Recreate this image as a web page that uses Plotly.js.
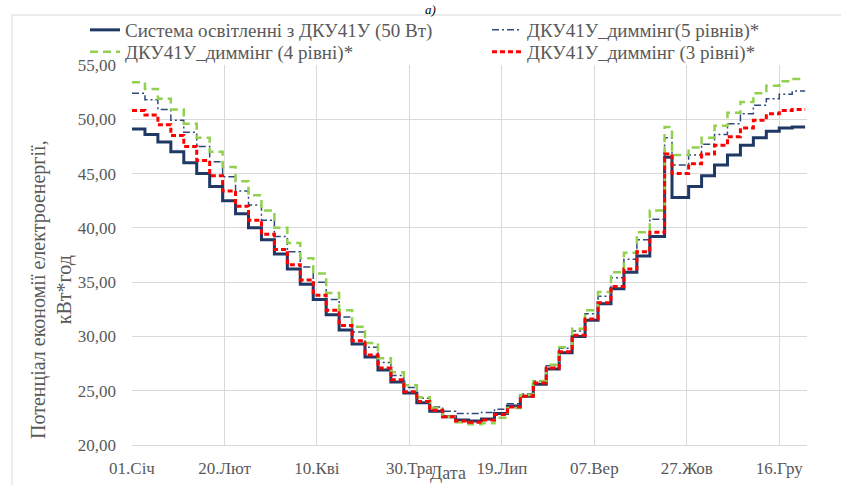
<!DOCTYPE html>
<html>
<head>
<meta charset="utf-8">
<script src="https://cdn.plot.ly/plotly-3.0.1.min.js"></script>
<style>html,body{margin:0;padding:0;background:#fff;}#chart{width:841px;height:485px;}</style>
</head>
<body>
<div id="chart"></div>
<script>
const dates = ['2024-01-01','2024-01-08','2024-01-15','2024-01-22','2024-01-29','2024-02-05','2024-02-12','2024-02-19','2024-02-26','2024-03-04','2024-03-11','2024-03-18','2024-03-25','2024-04-01','2024-04-08','2024-04-15','2024-04-22','2024-04-29','2024-05-06','2024-05-13','2024-05-20','2024-05-27','2024-06-03','2024-06-10','2024-06-17','2024-06-24','2024-07-01','2024-07-08','2024-07-15','2024-07-22','2024-07-29','2024-08-05','2024-08-12','2024-08-19','2024-08-26','2024-09-02','2024-09-09','2024-09-16','2024-09-23','2024-09-30','2024-10-07','2024-10-15','2024-10-19','2024-10-28','2024-11-04','2024-11-11','2024-11-18','2024-11-25','2024-12-02','2024-12-09','2024-12-16','2024-12-23','2024-12-30'];

const baseSeries = [49.1,48.6,47.9,47.0,46.0,45.0,43.8,42.5,41.3,40.0,38.9,37.6,36.2,34.8,
 33.4,32.0,30.6,29.3,28.1,26.9,25.8,24.8,23.9,23.1,22.6,22.3,22.2,22.4,22.9,23.6,24.5,25.6,27.0,28.5,30.0,31.5,33.0,34.4,35.9,37.4,39.2,
 46.5,42.8,43.8,44.8,45.8,46.7,47.6,48.3,48.9,49.2,49.3,49.3];

const dim5Series = [52.4,51.8,50.9,49.9,48.8,47.5,46.1,44.7,43.4,42.1,40.7,39.2,37.8,36.4,
 35.0,33.4,31.8,30.4,29.0,27.6,26.4,25.3,24.3,23.5,23.1,22.9,22.9,23.0,23.3,23.8,24.7,25.9,27.3,28.9,30.5,32.1,33.7,35.4,37.1,38.9,40.8,
 48.3,45.8,46.7,47.7,48.6,49.6,50.5,51.3,51.9,52.3,52.6,52.6];

const dim4Series = [53.4,52.8,51.9,50.9,49.6,48.3,47.0,45.6,44.3,43.0,41.6,40.0,38.6,37.2,
 35.8,34.0,32.4,30.9,29.4,28.0,26.7,25.5,24.4,23.4,22.6,22.1,21.9,22.0,22.5,23.4,24.6,25.9,27.4,29.0,30.7,32.4,34.1,35.9,37.7,39.6,41.6,
 49.3,46.7,47.4,48.3,49.4,50.6,51.6,52.4,53.1,53.5,53.7,53.7];

const dim3Series = [50.8,50.4,49.5,48.5,47.5,46.2,44.8,43.4,42.0,40.7,39.4,38.0,36.6,35.2,
 33.8,32.4,31.0,29.6,28.3,27.1,26.0,24.9,24.0,23.2,22.6,22.2,22.1,22.3,22.8,23.5,24.5,25.7,27.1,28.6,30.1,31.6,33.1,34.6,36.2,37.8,39.6,
 46.8,45.0,45.9,46.8,47.6,48.4,49.2,49.9,50.5,50.8,50.9,50.9];

const seriesNames = ['Система освітленні з ДКУ41У (50 Вт)','ДКУ41У_диммінг(5 рівнів)*','ДКУ41У_диммінг (4 рівні)*','ДКУ41У_диммінг (3 рівні)*'];

const tickDates = ['2024-01-01','2024-02-20','2024-04-10','2024-05-30','2024-07-19','2024-09-07','2024-10-27','2024-12-16'];
const tickLabels = ['01.Січ','20.Лют','10.Кві','30.Тра','19.Лип','07.Вер','27.Жов','16.Гру'];

const yTitle = 'Потенціал економії електроенергії,<br>кВт*год';
const xTitle = 'Дата';
const panelLabel = 'а)';

const FONT = "'Liberation Serif', 'Times New Roman', 'DejaVu Serif', serif";
const GRAY = '#595959';

const traces = [
  {x: dates, y: baseSeries, name: seriesNames[0], legend: 'legend', mode: 'lines', line: {shape: 'hv', color: '#1F3864', width: 3}},
  {x: dates, y: dim5Series, name: seriesNames[1], legend: 'legend', mode: 'lines', line: {shape: 'hv', color: '#2F4A7A', width: 1.5, dash: '7px,3px,2px,3px'}},
  {x: dates, y: dim4Series, name: seriesNames[2], legend: 'legend2', mode: 'lines', line: {shape: 'hv', color: '#92D050', width: 2.5, dash: '8px,5px'}},
  {x: dates, y: dim3Series, name: seriesNames[3], legend: 'legend2', mode: 'lines', line: {shape: 'hv', color: '#FF0000', width: 3, dash: '5px,3px'}}
];

const L = 132, R = 34, T = 65, B = 40, W = 841, H = 485;
const pw = W - L - R, ph = H - T - B;
const px2x = p => (p - L) / pw;
const py2y = p => 1 - (p - T) / ph;

const legendBase = {orientation: 'h', xanchor: 'left', yanchor: 'middle', entrywidth: 357,
  font: {family: FONT, size: 19, color: GRAY}, bgcolor: 'rgba(0,0,0,0)', itemwidth: 30};

const layout = {
  width: W, height: H,
  margin: {l: L, r: R, t: T, b: B, pad: 0, autoexpand: false},
  paper_bgcolor: '#fff', plot_bgcolor: '#fff',
  separators: ', ',
  font: {family: FONT, size: 17, color: GRAY},
  showlegend: true,
  legend: Object.assign({}, legendBase, {x: px2x(85), y: py2y(30)}),
  legend2: Object.assign({}, legendBase, {x: px2x(85), y: py2y(52)}),
  xaxis: {type: 'date', range: ['2024-01-01', '2024-12-31'], tickvals: tickDates, ticktext: tickLabels,
          showgrid: true, gridcolor: '#D9D9D9', gridwidth: 1, showline: true, linecolor: '#D9D9D9', linewidth: 1,
          ticks: '', zeroline: false, tickfont: {family: FONT, size: 17, color: GRAY}, ticklabelstandoff: 8},
  yaxis: {range: [20, 55], tickvals: [20,25,30,35,40,45,50,55], tickformat: '.2f',
          showgrid: true, gridcolor: '#D9D9D9', gridwidth: 1, showline: false, zeroline: false, ticks: '',
          tickfont: {family: FONT, size: 17, color: GRAY}, ticklabelstandoff: 15},
  annotations: [
    {text: yTitle, xref: 'paper', yref: 'paper', x: px2x(51), y: py2y(290), xanchor: 'center', yanchor: 'middle',
     textangle: -90, showarrow: false, font: {family: FONT, size: 20, color: GRAY}},
    {text: xTitle, xref: 'paper', yref: 'paper', x: px2x(448), y: py2y(473), xanchor: 'center', yanchor: 'middle',
     showarrow: false, font: {family: FONT, size: 18, color: GRAY}},
    {text: '<i>' + panelLabel + '</i>', xref: 'paper', yref: 'paper', x: px2x(430), y: py2y(0), xanchor: 'center', yanchor: 'top',
     showarrow: false, font: {family: FONT, size: 13, color: '#000'}}
  ],
  shapes: [
    {type: 'line', xref: 'paper', yref: 'paper', x0: px2x(12), x1: px2x(841), y0: py2y(15), y1: py2y(15), line: {color: '#D9D9D9', width: 1}},
    {type: 'line', xref: 'paper', yref: 'paper', x0: px2x(12), x1: px2x(12), y0: py2y(15), y1: py2y(485), line: {color: '#D9D9D9', width: 1}}
  ]
};

Plotly.newPlot('chart', traces, layout, {staticPlot: true, displayModeBar: false});
</script>
</body>
</html>
